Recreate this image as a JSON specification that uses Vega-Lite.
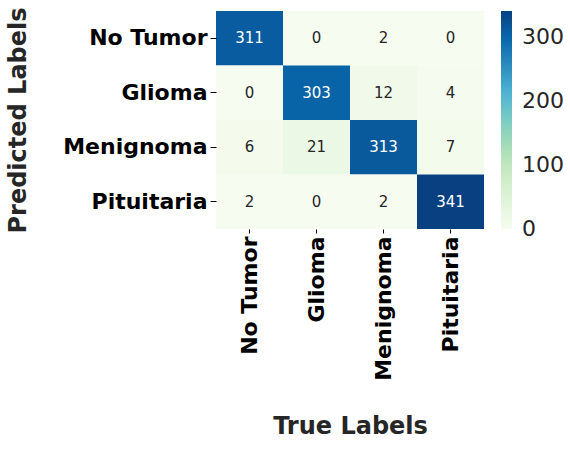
{
  "$schema": "https://vega.github.io/schema/vega-lite/v6.json",
  "width": 268,
  "height": 218,
  "autosize": {"type": "none"},
  "padding": {"left": 216, "top": 11, "right": 86, "bottom": 244},
  "background": "white",
  "config": {"view": {"stroke": null}, "font": "DejaVu Sans"},
  "data": {
    "values": [
      {"pred": "No Tumor", "true": "No Tumor", "count": 311},
      {"pred": "No Tumor", "true": "Glioma", "count": 0},
      {"pred": "No Tumor", "true": "Menignoma", "count": 2},
      {"pred": "No Tumor", "true": "Pituitaria", "count": 0},
      {"pred": "Glioma", "true": "No Tumor", "count": 0},
      {"pred": "Glioma", "true": "Glioma", "count": 303},
      {"pred": "Glioma", "true": "Menignoma", "count": 12},
      {"pred": "Glioma", "true": "Pituitaria", "count": 4},
      {"pred": "Menignoma", "true": "No Tumor", "count": 6},
      {"pred": "Menignoma", "true": "Glioma", "count": 21},
      {"pred": "Menignoma", "true": "Menignoma", "count": 313},
      {"pred": "Menignoma", "true": "Pituitaria", "count": 7},
      {"pred": "Pituitaria", "true": "No Tumor", "count": 2},
      {"pred": "Pituitaria", "true": "Glioma", "count": 0},
      {"pred": "Pituitaria", "true": "Menignoma", "count": 2},
      {"pred": "Pituitaria", "true": "Pituitaria", "count": 341}
    ]
  },
  "encoding": {
    "x": {
      "field": "true",
      "type": "nominal",
      "sort": ["No Tumor", "Glioma", "Menignoma", "Pituitaria"],
      "scale": {"paddingInner": 0, "paddingOuter": 0},
      "axis": {
        "title": "True Labels",
        "labelAngle": -90,
        "labelFontSize": 22,
        "labelFontWeight": "bold",
        "labelColor": "black",
        "labelPadding": 3,
        "tickSize": 4,
        "tickColor": "black",
        "domain": false,
        "titleFontSize": 24,
        "titleFontWeight": "bold",
        "titleColor": "#262626",
        "titleX": 134,
        "titleY": 204,
        "titleAlign": "center",
        "titleBaseline": "alphabetic"
      }
    },
    "y": {
      "field": "pred",
      "type": "nominal",
      "sort": ["No Tumor", "Glioma", "Menignoma", "Pituitaria"],
      "scale": {"paddingInner": 0, "paddingOuter": 0},
      "axis": {
        "title": "Predicted Labels",
        "labelFontSize": 22,
        "labelFontWeight": "bold",
        "labelColor": "black",
        "labelPadding": 3,
        "tickSize": 6,
        "tickColor": "black",
        "domain": false,
        "titleFontSize": 24,
        "titleFontWeight": "bold",
        "titleColor": "#262626",
        "titleAngle": -90,
        "titleX": -191,
        "titleY": 109,
        "titleAlign": "center",
        "titleBaseline": "alphabetic"
      }
    }
  },
  "layer": [
    {
      "mark": {"type": "rect"},
      "encoding": {
        "color": {
          "field": "count",
          "type": "quantitative",
          "scale": {
            "domain": [0, 42.625, 85.25, 127.875, 170.5, 213.125, 255.75, 298.375, 341],
            "range": ["#f7fcf0", "#e0f3db", "#ccebc5", "#a8ddb5", "#7bccc4", "#4eb3d3", "#2b8cbe", "#0868ac", "#084081"],
            "interpolate": "rgb"
          },
          "legend": {
            "title": null,
            "orient": "right",
            "offset": 17,
            "padding": 0,
            "gradientLength": 218,
            "gradientThickness": 11,
            "gradientStrokeWidth": 0,
            "values": [0, 100, 200, 300],
            "labelFontSize": 22,
            "labelColor": "#262626",
            "labelOffset": 10,
            "labelBaseline": "middle",
            "encode": {
              "labels": {
                "update": {"baseline": {"value": "middle"}}
              }
            }
          }
        }
      }
    },
    {
      "mark": {"type": "text", "fontSize": 15},
      "encoding": {
        "text": {"field": "count", "type": "quantitative"},
        "color": {
          "condition": {"test": "datum.count > 200", "value": "white"},
          "value": "#262626"
        }
      }
    }
  ]
}
